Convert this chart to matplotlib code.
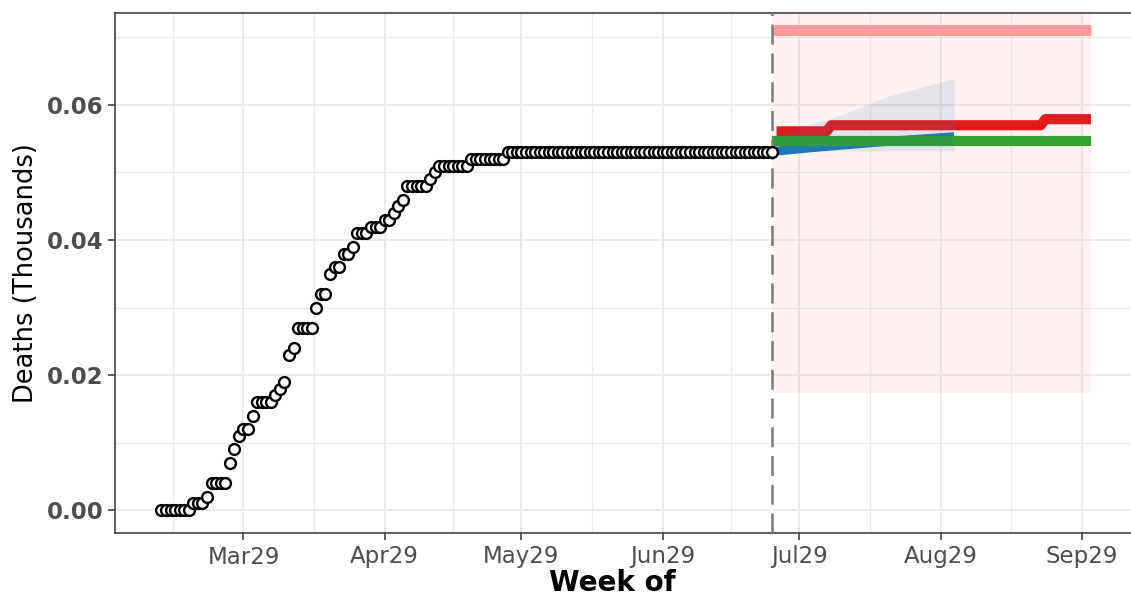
import numpy as np
import pandas as pd
import matplotlib
matplotlib.use("Agg")
import matplotlib.pyplot as plt
import matplotlib.dates as mdates

# observed cumulative deaths (thousands), daily from Mar 11
obs_start = "2020-03-11"
deaths = ([0.0] * 7 + [0.001] * 3 + [0.002] + [0.004] * 4
          + [0.007, 0.009, 0.011, 0.012, 0.012, 0.014] + [0.016] * 4
          + [0.017, 0.018, 0.019, 0.023, 0.024] + [0.027] * 4
          + [0.030, 0.032, 0.032, 0.035, 0.036, 0.036, 0.038, 0.038, 0.039]
          + [0.041] * 3 + [0.042] * 3 + [0.043] * 2 + [0.044, 0.045, 0.046]
          + [0.048] * 5 + [0.049, 0.050] + [0.051] * 7 + [0.052] * 8
          + [0.053] * 59)

forecast_start = "2020-07-23"

# flat forecasts
flat_dates = ["2020-07-23", "2020-10-01"]
pink_vals = [0.0711, 0.0711]
green_vals = [0.0547, 0.0547]

# stepped red forecast
red_dates = ["2020-07-24", "2020-08-04", "2020-08-05", "2020-09-20", "2020-09-21", "2020-10-01"]
red_vals = [0.0561, 0.0561, 0.0570, 0.0570, 0.0579, 0.0579]

# blue median forecast and its band
blue_dates = ["2020-07-23", "2020-08-01", "2020-08-10", "2020-08-19", "2020-08-28", "2020-09-01"]
blue_vals = [0.0531, 0.0537, 0.0542, 0.0547, 0.0551, 0.0553]
band_dates = ["2020-07-23", "2020-08-02", "2020-08-05", "2020-08-12", "2020-08-17", "2020-08-25", "2020-09-01"]
band_lo = [0.0532, 0.0532, 0.0532, 0.0532, 0.0532, 0.0532, 0.0532]
band_hi = [0.0553, 0.0575, 0.0580, 0.0598, 0.0612, 0.0627, 0.0639]

# wide pink interval
interval_dates = ["2020-07-23", "2020-10-01"]
interval_lo = [0.0174, 0.0174]
interval_hi = [0.08, 0.08]

tick_dates = ["2020-03-29", "2020-04-29", "2020-05-29", "2020-06-29",
              "2020-07-29", "2020-08-29", "2020-09-29"]
y_major = [0.0, 0.02, 0.04, 0.06]
y_minor = [0.01, 0.03, 0.05, 0.07]

def d(lst):
    return mdates.date2num(pd.to_datetime(lst))

obs_x = d(pd.date_range(obs_start, periods=len(deaths)))

fig = plt.figure(figsize=(11.31, 5.98), dpi=100)
ax = fig.add_axes([115 / 1131, 65 / 598, 1 - 115 / 1131, (533 - 12.5) / 598])

lw = 7.3
ax.fill_between(d(interval_dates), interval_lo, interval_hi, color="#fb9a99", alpha=0.13, lw=0, zorder=1)
ax.plot(d(flat_dates), pink_vals, color="#fb9a99", lw=lw + 0.6, solid_capstyle="butt", zorder=2)
ax.plot(d(red_dates), red_vals, color="#e31a1c", lw=lw, solid_capstyle="butt", zorder=2)
ax.plot(d(blue_dates), blue_vals, color="#1f78b4", lw=lw - 0.8, solid_capstyle="butt", zorder=2)
ax.plot(d(flat_dates), green_vals, color="#33a02c", lw=lw, solid_capstyle="butt", zorder=2.1)
ax.fill_between(d(band_dates), band_lo, band_hi, color="#377eb8", alpha=0.12, lw=0, zorder=2.5)
ax.axvline(d([forecast_start])[0], color="#7a7a7a", lw=1.8, ls=(0, (8, 3.5)), zorder=3)
ax.plot(obs_x, deaths, "o", ms=7.8, mfc="white", mec="black", mew=1.7, zorder=4)

maj = d(tick_dates)
step = maj[1] - maj[0]
minor_x = np.concatenate([[maj[0] - step / 2], (maj[:-1] + maj[1:]) / 2])
ax.set_xticks(maj)
ax.set_xticklabels([pd.Timestamp(t).strftime("%b%d") for t in tick_dates])
ax.set_xticks(minor_x, minor=True)
ax.set_yticks(y_major)
ax.set_yticklabels(["%.2f" % v for v in y_major])
ax.set_yticks(y_minor, minor=True)

x0 = d(["2020-03-29"])[0]
ax.set_xlim(x0 - 28.2, x0 + 194.8)
ax.set_ylim(-0.0034, 0.0737)

ax.set_axisbelow(True)
ax.grid(which="major", color="#ebebeb", lw=1.4)
ax.grid(which="minor", color="#ebebeb", lw=0.9)
ax.tick_params(which="minor", length=0)
ax.tick_params(which="major", length=5, width=1.1, color="#333333")
ax.tick_params(axis="x", labelsize=16.5, labelcolor="#4d4d4d", pad=4)
ax.tick_params(axis="y", labelsize=16.5, labelcolor="#4d4d4d", pad=3)
for lab in ax.get_yticklabels():
    lab.set_fontweight("bold")

for side in ["left", "bottom", "top"]:
    ax.spines[side].set_color("#333333")
    ax.spines[side].set_linewidth(1.1)
ax.spines["right"].set_visible(False)

ax.set_xlabel("Week of", fontsize=20, fontweight="bold")
ax.xaxis.set_label_coords((612 - 115) / (1131 - 115), -0.07)
ax.set_ylabel("Deaths (Thousands)", fontsize=18.5, labelpad=6)

fig.savefig("out.png", dpi=100)
